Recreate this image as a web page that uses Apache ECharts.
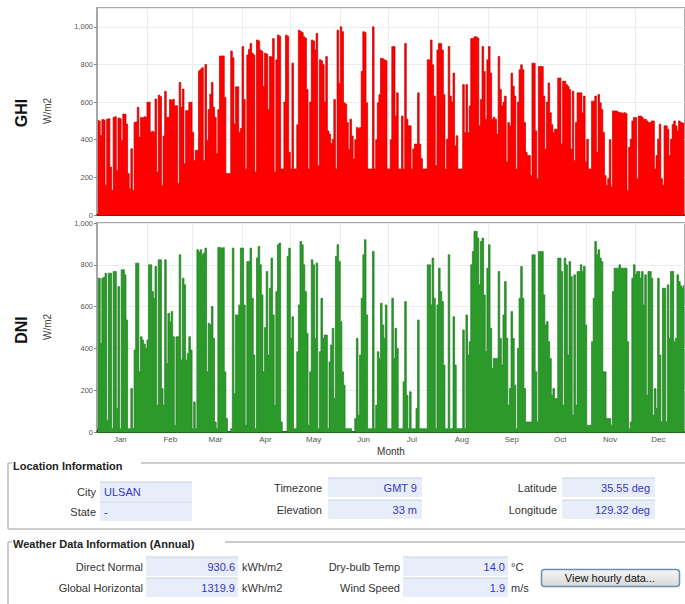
<!DOCTYPE html>
<html>
<head>
<meta charset="utf-8">
<script src="https://cdn.jsdelivr.net/npm/echarts@6/dist/echarts.min.js"></script>
<style>
  html, body { margin: 0; padding: 0; background: #ffffff; }
  #chart { width: 685px; height: 604px; }
</style>
</head>
<body>
<div id="chart"></div>
<script>
// Calendar
const monthNames = ['Jan', 'Feb', 'Mar', 'Apr', 'May', 'Jun', 'Jul', 'Aug', 'Sep', 'Oct', 'Nov', 'Dec'];
const monthLengths = [31, 28, 31, 30, 31, 30, 31, 31, 30, 31, 30, 31];

// Daily peak global horizontal irradiance, W/m2 (one value per day)
const ghiDaily = [
  // Jan
  502,500,422,507,505,158,510,512,255,132, 520,523,237,515,512,396,537,535,484,220, 140,352,132,493,495,572,414,519,515,522, 519,
  // Feb
  599,600,440,445,440,616,229,637,630,158, 420,657,519,520,613,610,615,581,581,167, 704,572,669,273,555,555,599,599,
  // Mar
  440,290,343,345,766,775,783,290,800,396, 560,642,704,572,519,325,560,845,845,845, 625,220,220,220,871,836,484,681,681,440, 460,
  // Apr
  895,614,245,850,880,912,860,850,228,930, 925,877,870,684,860,855,561,842,840,938, 228,825,956,950,245,245,600,956,950,333,
  // May
  245,807,245,245,480,982,975,970,947,940, 667,245,600,930,925,877,965,263,825,820, 800,600,842,447,430,380,403,614,245,982, 700,
  // Jun
  1000,974,596,590,491,350,509,420,298,400, 465,460,465,763,974,970,596,245,245,245, 1000,245,400,596,640,833,830,825,820,245,
  // Jul
  245,400,895,895,526,649,245,245,526,245, 912,509,474,474,245,351,377,377,649,377, 300,245,245,245,825,825,930,798,632,263, 877,
  // Aug
  912,912,877,640,245,403,895,632,600,754, 368,421,245,245,245,693,438,693,438,579, 938,938,947,947,940,474,614,895,763,509, 825,
  // Sep
  895,754,509,520,509,430,842,667,579,600, 632,281,491,474,754,684,632,245,600,772, 798,772,491,333,316,316,210,807,807,447,
  // Oct
  193,789,789,789,632,351,600,702,544,480, 439,456,456,728,728,377,711,711,693,684, 667,351,658,289,491,649,649,649,544,632, 281,
  // Nov
  403,245,245,605,605,632,333,640,596,561, 439,210,158,193,400,149,553,553,553,548, 544,544,540,544,540,132,360,403,500,518,
  // Dec
  518,193,526,526,520,509,509,500,491,491, 500,500,245,316,403,482,193,158,474,474, 456,316,403,480,500,474,447,500,491,490, 485
];

// Daily peak direct normal irradiance, W/m2 (one value per day)
const dniDaily = [
  // Jan
  736,736,424,736,740,760,56,760,760,16, 768,768,112,696,16,776,776,752,536,16, 16,208,16,392,808,808,288,456,440,420, 400,
  // Feb
  440,800,800,672,640,792,128,824,824,208, 128,824,328,568,528,576,456,32,456,456, 848,344,736,704,344,376,456,392,
  // Mar
  16,144,16,872,860,872,848,856,880,288, 520,512,600,448,48,16,883,883,880,883, 288,64,0,0,16,880,184,560,560,608, 880,
  // Apr
  880,608,32,816,816,880,640,368,16,832, 888,800,656,288,500,768,368,688,832,560, 128,672,896,904,48,0,0,0,840,880,
  // May
  448,552,16,16,384,608,912,896,800,672, 472,32,288,824,800,448,808,16,384,640, 448,464,464,16,336,416,496,160,840,896, 816,
  // Jun
  528,288,224,16,16,16,16,0,0,64, 448,80,368,640,848,920,560,16,16,16, 864,16,128,384,352,616,512,448,608,16,
  // Jul
  16,16,640,352,496,400,16,16,16,240, 624,176,16,192,16,16,16,112,536,16, 16,16,16,16,800,800,608,832,640,16, 608,
  // Aug
  784,672,624,320,16,16,848,16,16,552, 320,16,16,16,16,488,16,560,368,432, 800,864,960,960,928,704,912,928,656,384, 784,
  // Sep
  896,496,304,352,352,352,768,448,320,560, 720,448,128,208,576,448,224,16,400,640, 792,640,208,48,48,48,48,848,848,288,
  // Oct
  48,864,864,864,656,512,528,432,352,176, 208,160,160,832,832,768,128,832,800,368, 816,744,80,752,128,768,768,800,768,792, 512,
  // Nov
  32,32,32,432,640,912,848,872,832,816, 288,288,64,64,64,32,672,784,784,784, 800,784,784,784,784,432,16,48,736,800,
  // Dec
  752,768,768,736,768,608,752,176,768,768, 736,80,208,112,736,368,48,688,688,48, 704,448,768,768,432,448,752,720,700,690, 700
];

// Station details
const locationLabels = ['City', 'State', 'Timezone', 'Elevation', 'Latitude', 'Longitude'];
const locationValues = ['ULSAN', '-', 'GMT 9', '33 m', '35.55 deg', '129.32 deg'];
const weatherLabels = ['Direct Normal', 'Global Horizontal', 'Dry-bulb Temp', 'Wind Speed'];
const weatherValues = ['930.6', '1319.9', '14.0', '1.9'];
const weatherUnits = ['kWh/m2', 'kWh/m2', '°C', 'm/s'];

const FONT = '"Liberation Sans", Arial, sans-serif';

// Category index helpers: month boundaries and mid-month label positions
const dayKeys = ghiDaily.map((_, i) => String(i));
const monthStart = new Set();
const monthMid = new Map();
let acc = 0;
monthLengths.forEach((n, m) => {
  monthStart.add(acc);
  monthMid.set(acc + 14, monthNames[m]);
  acc += n;
});

function dayAxis(gridIndex, showLabels, lineColor) {
  return {
    type: 'category',
    gridIndex: gridIndex,
    data: dayKeys,
    boundaryGap: true,
    axisLine: { show: true, lineStyle: { color: lineColor, width: 2 } },
    axisTick: {
      show: showLabels, inside: true, length: 3,
      interval: (i) => monthStart.has(i),
      lineStyle: { color: '#444' }
    },
    axisLabel: {
      show: showLabels,
      interval: (i) => monthMid.has(i),
      formatter: (v, i) => monthMid.get(i) || '',
      fontSize: 8, color: '#555', margin: 3, fontFamily: FONT
    },
    splitLine: {
      show: true,
      interval: (i) => monthStart.has(i),
      lineStyle: { color: '#ececec', width: 1 }
    },
    name: showLabels ? 'Month' : '',
    nameLocation: 'middle',
    nameGap: 14,
    nameTextStyle: { fontSize: 10, color: '#333', fontFamily: FONT }
  };
}

function irrAxis(gridIndex, maxVal) {
  return {
    type: 'value',
    gridIndex: gridIndex,
    min: 0, max: maxVal, interval: 200,
    axisLine: { show: true, lineStyle: { color: '#a8a8a8', width: 2 } },
    axisTick: { show: true, length: 3, lineStyle: { color: '#888' } },
    axisLabel: {
      fontSize: 7.5, color: '#555', margin: 4, fontFamily: FONT,
      showMaxLabel: maxVal === 1000,
      formatter: (v) => v.toLocaleString('en-US')
    },
    splitLine: { show: true, lineStyle: { color: '#ececec', width: 1 } }
  };
}

function irrSeries(index, values, fill, edge) {
  return {
    type: 'line',
    xAxisIndex: index, yAxisIndex: index,
    data: values,
    step: 'middle',
    symbol: 'none',
    silent: true,
    lineStyle: { color: edge, width: 0.7 },
    areaStyle: { color: fill, opacity: 1 }
  };
}

// Text and boxes for the information panels
const graphics = [];
function txt(x, y, text, opts) {
  opts = opts || {};
  graphics.push({
    type: 'text', x: x, y: y, silent: true,
    rotation: opts.rotation || 0,
    style: {
      text: text,
      fill: opts.color || '#333',
      font: (opts.weight || 'normal') + ' ' + (opts.size || 11) + 'px ' + FONT,
      textAlign: opts.align || 'left',
      textVerticalAlign: 'middle'
    }
  });
}
function line(x1, y1, x2, y2, color, width) {
  graphics.push({
    type: 'line', silent: true,
    shape: { x1: x1, y1: y1, x2: x2, y2: y2 },
    style: { stroke: color || '#bcbcbc', lineWidth: width || 1.5 }
  });
}
function field(x1, x2, y) {
  graphics.push({
    type: 'rect', silent: true,
    shape: { x: x1, y: y - 10, width: x2 - x1, height: 19 },
    style: { fill: '#e8edfa' }
  });
  line(x1, y - 10, x2, y - 10, '#c9cfdd', 1);
}

// Axis titles at the left
txt(21, 113, 'GHI', { size: 16, weight: 'bold', color: '#111', align: 'center', rotation: Math.PI / 2 });
txt(47, 111, 'W/m2', { size: 10, color: '#444', align: 'center', rotation: Math.PI / 2 });
txt(21, 330, 'DNI', { size: 16, weight: 'bold', color: '#111', align: 'center', rotation: Math.PI / 2 });
txt(47, 327, 'W/m2', { size: 10, color: '#444', align: 'center', rotation: Math.PI / 2 });

// Location Information group
line(8, 463, 12, 463);
line(141, 463, 685, 463);
line(8, 463, 8, 529);
line(8, 529, 685, 529);
txt(13, 466, 'Location Information', { weight: 'bold', size: 11, color: '#222' });

const locCols = [
  { labelX: 96, boxL: 100, boxR: 192, valAlign: 'left', valX: 104 },
  { labelX: 322, boxL: 328, boxR: 422, valAlign: 'right', valX: 417 },
  { labelX: 557, boxL: 562, boxR: 655, valAlign: 'right', valX: 650 }
];
const locRowsY = [[492, 512], [488, 510], [488, 510]];
locationLabels.forEach((lab, i) => {
  const c = Math.floor(i / 2), r = i % 2;
  const col = locCols[c];
  const y = locRowsY[c][r];
  field(col.boxL, col.boxR, y);
  txt(col.labelX, y, lab, { align: 'right', color: '#333' });
  txt(col.valX, y, locationValues[i], { align: col.valAlign, color: '#3535c8' });
});

// Weather Data Information group
line(8, 542, 12, 542);
line(225, 542, 685, 542);
line(8, 542, 8, 604);
txt(13, 544, 'Weather Data Information (Annual)', { weight: 'bold', size: 11, color: '#222' });

const wCols = [
  { labelX: 143, boxL: 146, boxR: 238, valX: 235, unitX: 242 },
  { labelX: 400, boxL: 403, boxR: 508, valX: 505, unitX: 511 }
];
const wRowsY = [567, 588];
weatherLabels.forEach((lab, i) => {
  const col = wCols[Math.floor(i / 2)];
  const y = wRowsY[i % 2];
  field(col.boxL, col.boxR, y);
  txt(col.labelX, y, lab, { align: 'right', color: '#333' });
  txt(col.valX, y, weatherValues[i], { align: 'right', color: '#3535c8' });
  txt(col.unitX, y, weatherUnits[i], { color: '#333' });
});

// Button
graphics.push({
  type: 'rect', silent: true,
  shape: { x: 541.5, y: 569.5, width: 138, height: 17, r: 3 },
  style: {
    fill: new echarts.graphic.LinearGradient(0, 0, 0, 1, [
      { offset: 0, color: '#f6f6f6' }, { offset: 1, color: '#d8d8d8' }
    ]),
    stroke: '#6d8db5', lineWidth: 1.5
  }
});
txt(610, 578, 'View hourly data...', { align: 'center', color: '#111', size: 11 });

const chart = echarts.init(document.getElementById('chart'), null, { renderer: 'svg' });
chart.setOption({
  animation: false,
  backgroundColor: '#ffffff',
  grid: [
    { left: 97, top: 8, width: 592, height: 207, show: true, borderColor: '#a8a8a8', borderWidth: 2, containLabel: false },
    { left: 97, top: 223, width: 592, height: 209, show: true, borderColor: '#a8a8a8', borderWidth: 2, containLabel: false }
  ],
  xAxis: [dayAxis(0, false, '#b30000'), dayAxis(1, true, '#1c6b1c')],
  yAxis: [irrAxis(0, 1100), irrAxis(1, 1000)],
  series: [
    irrSeries(0, ghiDaily, '#ff0000', '#c40000'),
    irrSeries(1, dniDaily, '#2b9a2b', '#1f7d1f')
  ],
  graphic: { elements: graphics }
});
</script>
</body>
</html>
